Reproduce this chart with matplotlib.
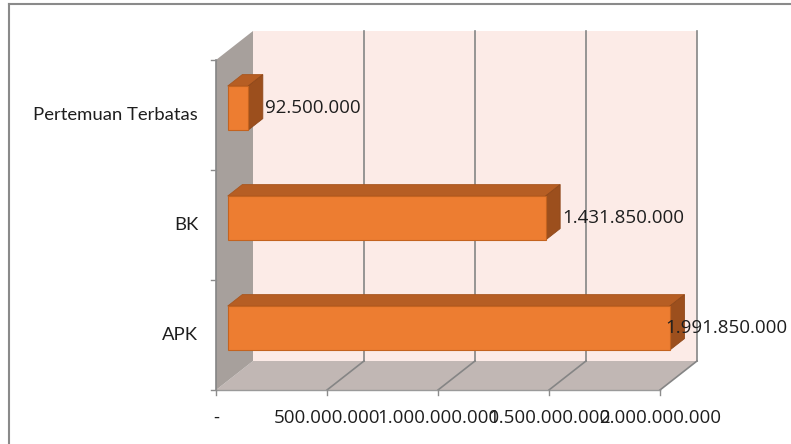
import matplotlib.pyplot as plt
from matplotlib.patches import Polygon
from matplotlib.lines import Line2D

categories = ["APK", "BK", "Pertemuan Terbatas"]
values = [1991850000, 1431850000, 92500000]
value_labels = ["1.991.850.000", "1.431.850.000", "92.500.000"]
x_ticks = [0, 500000000, 1000000000, 1500000000, 2000000000]
x_tick_labels = ["-", "500.000.000", "1.000.000.000", "1.500.000.000", "2.000.000.000"]

W, H = 791, 444
FONT = "Open Sans"
CAT_FONT = "Lato"
TXT = "#1e1e1e"

# pixel scale of the front plane
X0_PX, Y0_PX = 216, 54
PX_X = 444 / 2e9
PX_CAT = 110
DX = 37 / PX_X
DY = 29 / PX_CAT
F0, F1 = 12 / 38, 27 / 38
BAR_LO, BAR_HI = 0.28, 0.68
XMAX = x_ticks[-1]
NCAT = len(categories)

fig = plt.figure(figsize=(W / 100, H / 100), dpi=100)
ax = fig.add_axes([0, 0, 1, 1])
ax.set_xlim(-X0_PX / PX_X, (W - X0_PX) / PX_X)
ax.set_ylim(-Y0_PX / PX_CAT, (H - Y0_PX) / PX_CAT)
ax.axis("off")


def poly(pts, fc, ec="none", lw=0.0, z=1):
    ax.add_patch(Polygon(pts, closed=True, facecolor=fc, edgecolor=ec, linewidth=lw, zorder=z))


# walls and floor
poly([(DX, DY), (XMAX + DX, DY), (XMAX + DX, NCAT + DY), (DX, NCAT + DY)], "#fcebe7", z=1)
poly([(0, 0), (XMAX, 0), (XMAX + DX, DY), (DX, DY)], "#c1b7b4", z=1)
poly([(0, 0), (DX, DY), (DX, NCAT + DY), (0, NCAT)], "#a7a09c", z=1)

grid = dict(color="#858585", lw=1.2, zorder=2)
for v in x_ticks[1:]:
    ax.plot([v + DX, v + DX], [DY, NCAT + DY], **grid)
    ax.plot([v, v + DX], [0, DY], **grid)
ax.plot([0, XMAX], [0, 0], color="#9a9a9a", lw=1.0, zorder=2)
ax.plot([0, 0], [0, NCAT], color="#858585", lw=1.2, zorder=2)

# tick marks
tick_dx = 5 / PX_X
tick_dy = 5 / PX_CAT
for v in x_ticks:
    ax.plot([v, v], [0, -tick_dy], color="#8c8c8c", lw=1.0, zorder=2)
for i in range(NCAT + 1):
    ax.plot([-tick_dx, 0], [i, i], color="#8c8c8c", lw=1.0, zorder=2)

# bars
for i, v in enumerate(values):
    y0, y1 = i + BAR_LO, i + BAR_HI
    ax0, ay0 = F0 * DX, F0 * DY
    ax1, ay1 = F1 * DX, F1 * DY
    poly([(ax0, y1 + ay0), (v + ax0, y1 + ay0), (v + ax1, y1 + ay1), (ax1, y1 + ay1)],
         "#b65e24", ec="#a9561f", lw=0.6, z=3)
    poly([(v + ax0, y0 + ay0), (v + ax0, y1 + ay0), (v + ax1, y1 + ay1), (v + ax1, y0 + ay1)],
         "#9c4f1d", ec="#8f481a", lw=0.6, z=3)
    poly([(ax0, y0 + ay0), (v + ax0, y0 + ay0), (v + ax0, y1 + ay0), (ax0, y1 + ay0)],
         "#ed7d31", ec="#c4631f", lw=0.8, z=4)

    lx = v + ax1 + 2 / PX_X
    ly = (y0 + y1) / 2 + ay0
    right_lim = ax.get_xlim()[1] - 4 / PX_X
    if lx + 120 / PX_X > right_lim:
        ax.text(right_lim, ly, value_labels[i], ha="right", va="center",
                fontsize=13.5, family=FONT, color=TXT, zorder=6)
    else:
        ax.text(lx, ly, value_labels[i], ha="left", va="center",
                fontsize=13.5, family=FONT, color=TXT, zorder=6)

# axis labels
for i, c in enumerate(categories):
    ax.text(-18 / PX_X, i + 0.5, c, ha="right", va="center",
            fontsize=13.3, family=CAT_FONT, color=TXT)
for v, t in zip(x_ticks, x_tick_labels):
    ax.text(v, -28 / PX_CAT, t, ha="center", va="center",
            fontsize=13.5, family=FONT, color=TXT)

# chart frame
fig.add_artist(Line2D([9 / W, 1], [1 - 4 / H, 1 - 4 / H], transform=fig.transFigure,
                      color="#8a8a8a", lw=1.5))
fig.add_artist(Line2D([9 / W, 9 / W], [0, 1 - 4 / H], transform=fig.transFigure,
                      color="#8a8a8a", lw=1.5))

fig.savefig("out.png", dpi=100)
